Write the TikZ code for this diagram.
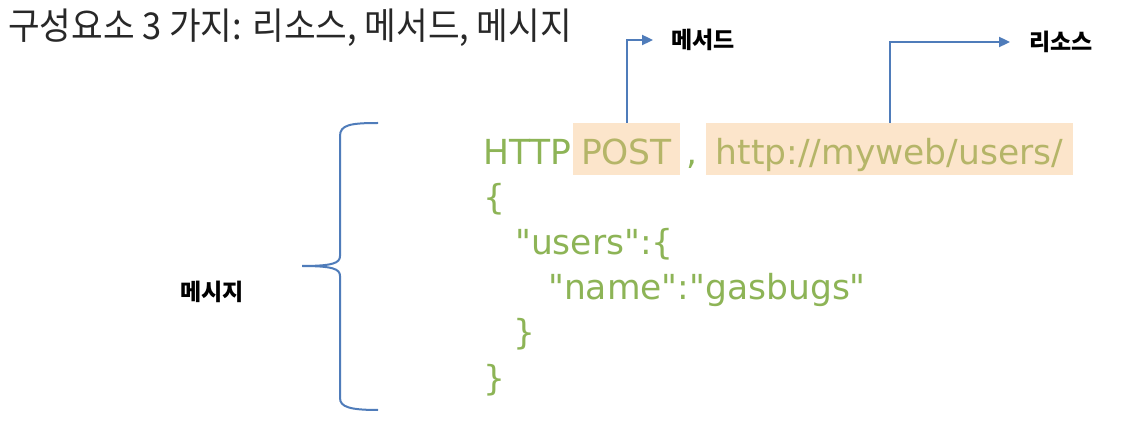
\documentclass[tikz,border=0pt]{standalone}
\usepackage{fontspec}
\newfontfamily\krfont{Noto Sans CJK KR}
\newfontfamily\titlefont[FakeStretch=0.93]{Noto Sans CJK KR}
\newfontfamily\codefont{DejaVu Sans}
\usetikzlibrary{arrows.meta}
\usetikzlibrary{positioning}
\definecolor{codegreen}{RGB}{141,180,86}
\definecolor{hltext}{RGB}{181,181,104}
\definecolor{hlfill}{RGB}{252,229,203}
\definecolor{linkblue}{RGB}{79,124,186}
\definecolor{titlegray}{RGB}{40,40,40}

\begin{document}
\begin{tikzpicture}[x=1pt,y=1pt,
  code/.style={font=\codefont\fontsize{34.5}{40}\selectfont,text=codegreen,inner sep=0pt},
  hl/.style={code,text=hltext,fill=hlfill,text height=40pt,text depth=8pt,inner ysep=2pt,inner xsep=0pt},
  tag/.style={font=\krfont\bfseries\fontsize{23}{27}\selectfont,text=black,inner sep=0pt},
  link/.style={draw=linkblue,line width=2pt,-{Triangle[length=11pt,width=10pt]}}]
\fill[white] (0,0) rectangle (1138,442);
\useasboundingbox (0,0) rectangle (1138,442);

\node[font=\titlefont\fontsize{37}{44}\selectfont,text=titlegray,anchor=west,inner sep=0pt] (title) at (8,414) {구성요소 3 가지: 리소스, 메서드, 메시지};

% first line
\node[code,anchor=base west] (http) at (483,277) {HTTP};
\node[hl,anchor=base,minimum width=107pt] (post) at (626.5,277) {POST};
\node[code,anchor=base west] (comma) at (686,277) {,};
\node[hl,anchor=base,minimum width=367pt] (url) at (889.5,277) {http://myweb/users/};

% body
\node[code,anchor=base west] (open) at (483,232) {\{};
\node[code,anchor=base west] (users) at (515,187) {"users":\{};
\node[code,anchor=base west] (name) at (548,142) {"name":"gasbugs"};
\node[code,anchor=base west] (inner) at (513,97) {\}};
\node[code,anchor=base west] (close) at (483,52) {\}};

% labels
\node[tag] (meth) at (703,402) {메서드};
\node[tag] (res) at (1061,400) {리소스};
\node[tag] (msg) at (212,150) {메시지};

\draw[link] (post.north) |- ([xshift=-18pt]meth.west);
\draw[link] (url.north) |- ([xshift=-19pt]res.west);

% brace
\draw[linkblue,line width=2pt] (378,319) .. controls (350,319) and (340,317) .. (340,306)
  -- (340,186) .. controls (340,179) and (333,176) .. (302,176)
  .. controls (333,176) and (340,173) .. (340,166)
  -- (340,44) .. controls (340,35) and (350,32) .. (378,32);

\end{tikzpicture}
\end{document}
